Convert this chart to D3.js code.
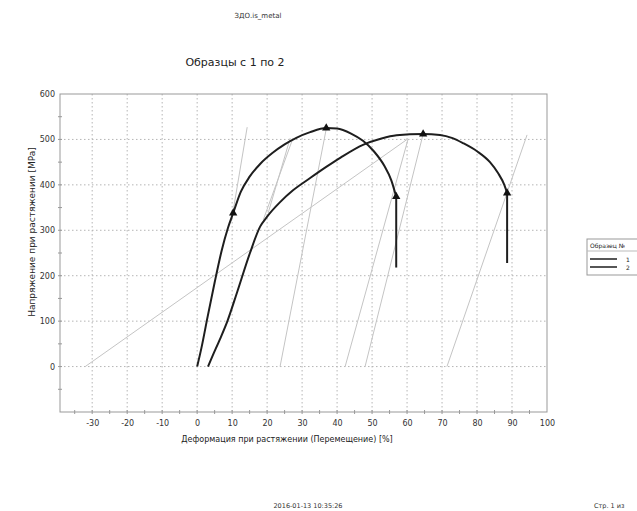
<!DOCTYPE html>
<html><head><meta charset="utf-8">
<script src="https://cdn.jsdelivr.net/npm/d3@7"></script>
<style>body{margin:0;background:#fff}svg{display:block}</style>
</head><body>
<script>
// ---- data ----
const xTicks = [-30,-20,-10,0,10,20,30,40,50,60,70,80,90,100];
const yTicks = [0,100,200,300,400,500,600];
const seriesNames = ["1","2"];
const curve1 = [[0,0],[1.2,40],[3,110],[5,185],[7,255],[8.8,305],[10.3,338],[12.5,385],[15,418],[18,446],[21.5,470],[25,489],[28.5,504],[32.3,516],[36.9,525],[40,524],[44,513],[47.4,497],[50.5,474],[53.5,442],[55.5,410],[56.9,374]];
const drop1 = [[56.9,374],[56.9,218]];
const curve2 = [[3.1,0],[4.5,25],[6.5,60],[8.6,99],[11.4,163],[15.1,250],[18,308],[20,330],[23.7,362],[27.4,388],[32.3,415],[37,440],[41,460],[47.4,488],[52.7,502],[57,509],[64.6,512],[69.4,510],[73,503],[76,492],[80,474],[83.7,450],[86,426],[87.8,400],[88.6,382]];
const drop2 = [[88.6,382],[88.6,228]];
const markers1 = [[10.3,338],[36.9,525],[56.9,374]];
const markers2 = [[64.6,512],[88.6,382]];
const greyLines = [
  [[-32,0],[60,500]],
  [[9.8,320],[14.3,527]],
  [[18.9,323],[27.4,503]],
  [[20.3,338],[26.6,503]],
  [[23.7,0],[37,527]],
  [[42.3,0],[60.3,501]],
  [[48,0],[64.6,512]],
  [[71.4,0],[94.3,510]]
];

const W=637,H=511;
const svg=d3.select("body").append("svg").attr("width",W).attr("height",H);
const font="'DejaVu Sans', sans-serif";
const x=d3.scaleLinear().domain([-39.2,100]).range([60,547]);
const y=d3.scaleLinear().domain([-100,600]).range([412,94]);

// grid
const g=svg.append("g");
g.selectAll(".vg").data(xTicks.filter(d=>d<100)).enter().append("line")
 .attr("x1",d=>x(d)).attr("x2",d=>x(d)).attr("y1",94).attr("y2",412)
 .attr("stroke","#b5b5b5").attr("stroke-width",1).attr("stroke-dasharray","1.5,2.5");
g.selectAll(".hg").data(yTicks.filter(d=>d<600)).enter().append("line")
 .attr("y1",d=>y(d)).attr("y2",d=>y(d)).attr("x1",60).attr("x2",547)
 .attr("stroke","#b5b5b5").attr("stroke-width",1).attr("stroke-dasharray","1.5,2.5");

// frame
svg.append("rect").attr("x",60).attr("y",94).attr("width",487).attr("height",318)
 .attr("fill","none").attr("stroke","#999").attr("stroke-width",1);

// axes
const fmt=d=>String(d);
const xAxis=d3.axisBottom(x).tickValues(xTicks).tickFormat(fmt).tickSize(0).tickPadding(8);
const xa=svg.append("g").attr("transform","translate(0,412)").call(xAxis);
xa.select(".domain").remove();
xa.selectAll("text").attr("font-family",font).attr("font-size",8).attr("fill","#333");
const xMinor=d3.range(-35,100,5);
svg.selectAll(".xm").data(xMinor).enter().append("line")
 .attr("x1",d=>x(d)).attr("x2",d=>x(d)).attr("y1",410).attr("y2",414).attr("stroke","#999");

const yAxis=d3.axisLeft(y).tickValues(yTicks).tickFormat(fmt).tickSize(0).tickPadding(5);
const ya=svg.append("g").attr("transform","translate(60,0)").call(yAxis);
ya.select(".domain").remove();
ya.selectAll("text").attr("font-family",font).attr("font-size",8).attr("fill","#333");
const yMinor=d3.range(-50,600,50);
svg.selectAll(".ym").data(yMinor).enter().append("line")
 .attr("y1",d=>y(d)).attr("y2",d=>y(d)).attr("x1",58).attr("x2",62).attr("stroke","#999");

// grey lines
const line=d3.line().x(d=>x(d[0])).y(d=>y(d[1]));
svg.selectAll(".gl").data(greyLines).enter().append("path")
 .attr("d",line).attr("fill","none").attr("stroke","#c4c4c4").attr("stroke-width",1);

// curves
const cl=d3.line().x(d=>x(d[0])).y(d=>y(d[1])).curve(d3.curveMonotoneX);
[curve1,curve2].forEach(c=>{
  svg.append("path").attr("d",cl(c)).attr("fill","none").attr("stroke","#1e1e1e").attr("stroke-width",2);
});
[drop1,drop2].forEach(c=>{
  svg.append("path").attr("d",line(c)).attr("fill","none").attr("stroke","#1e1e1e").attr("stroke-width",2);
});
const tri=d3.symbol().type(d3.symbolTriangle).size(30);
[markers1,markers2].forEach(m=>{
  svg.selectAll(null).data(m).enter().append("path").attr("d",tri)
   .attr("transform",d=>`translate(${x(d[0])},${y(d[1])})`).attr("fill","#111");
});

// texts
svg.append("text").attr("x",258).attr("y",18).attr("text-anchor","middle")
 .attr("font-family",font).attr("font-size",7).attr("fill","#333").text("ЗДО.is_metal");
svg.append("text").attr("x",235).attr("y",66).attr("text-anchor","middle")
 .attr("font-family",font).attr("font-size",11).attr("fill","#222").text("Образцы с 1 по 2");
svg.append("text").attr("x",287).attr("y",442).attr("text-anchor","middle")
 .attr("font-family",font).attr("font-size",8).attr("fill","#222").text("Деформация при растяжении (Перемещение) [%]");
svg.append("text").attr("transform","translate(35,232) rotate(-90)").attr("text-anchor","middle")
 .attr("font-family",font).attr("font-size",9).attr("fill","#222").text("Напряжение при растяжении [MPa]");
svg.append("text").attr("x",308).attr("y",508).attr("text-anchor","middle")
 .attr("font-family",font).attr("font-size",6.5).attr("fill","#333").text("2016-01-13 10:35:26");
svg.append("text").attr("x",594).attr("y",508)
 .attr("font-family",font).attr("font-size",6.5).attr("fill","#333").text("Стр. 1 из");

// legend
const lg=svg.append("g");
lg.append("rect").attr("x",587).attr("y",239).attr("width",60).attr("height",36)
 .attr("fill","#fff").attr("stroke","#999");
lg.append("line").attr("x1",587).attr("x2",647).attr("y1",251).attr("y2",251).attr("stroke","#bbb");
lg.append("text").attr("x",590).attr("y",248).attr("font-family",font).attr("font-size",6)
 .attr("fill","#222").text("Образец №");
seriesNames.forEach((s,i)=>{
  lg.append("line").attr("x1",590).attr("x2",617).attr("y1",259+i*8).attr("y2",259+i*8)
   .attr("stroke","#1e1e1e").attr("stroke-width",1.5);
  lg.append("text").attr("x",626).attr("y",262+i*8).attr("font-family",font).attr("font-size",6)
   .attr("fill","#222").text(s);
});
</script>
</body></html>
